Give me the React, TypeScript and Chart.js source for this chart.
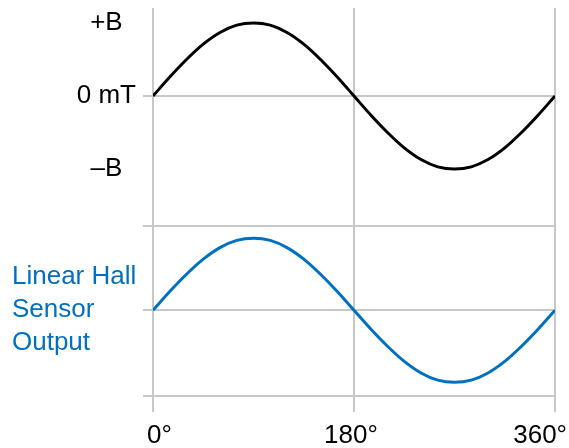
import React, { useEffect, useRef } from 'react';
import { Chart, registerables } from 'chart.js';

Chart.register(...registerables);

// Rotation angle (degrees)
const angles = [0, 15, 30, 45, 60, 75, 90, 105, 120, 135, 150, 165, 180, 195, 210, 225, 240, 255, 270, 285, 300, 315, 330, 345, 360];
// Magnetic field (normalised, ±B)
const fieldValues = [0, 0.26, 0.5, 0.71, 0.87, 0.97, 1, 0.97, 0.87, 0.71, 0.5, 0.26, 0, -0.26, -0.5, -0.71, -0.87, -0.97, -1, -0.97, -0.87, -0.71, -0.5, -0.26, 0];
// Linear Hall sensor output (normalised)
const outputValues = [0, 0.26, 0.5, 0.71, 0.87, 0.97, 1, 0.97, 0.87, 0.71, 0.5, 0.26, 0, -0.26, -0.5, -0.71, -0.87, -0.97, -1, -0.97, -0.87, -0.71, -0.5, -0.26, 0];

const xTickValues = [0, 180, 360];
const xTickLabels = ['0°', '180°', '360°'];
const fieldTickValues = [1, 0, -1];
const fieldTickLabels = ['+B', '0 mT', '–B'];
const outputLabelLines = ['Linear Hall', 'Sensor', 'Output'];

const FONT = "'Liberation Sans', Arial, sans-serif";
const GRID = '#c8c8c8';
const BLUE = '#0070c0';

const fieldMin = -1.78;
const fieldMax = 1.205;
const outputMin = -1.19;
const outputMax = 1.17;

const xLabelPlugin = {
  id: 'xLabels',
  afterDraw(chart: any) {
    const xs = chart.scales.x;
    const ctx = chart.ctx;
    ctx.save();
    ctx.font = `26px ${FONT}`;
    ctx.fillStyle = '#000';
    ctx.textBaseline = 'alphabetic';
    xTickValues.forEach((v, i) => {
      const px = xs.getPixelForValue(v);
      let x = px;
      if (i === 0) {
        ctx.textAlign = 'left';
        x = px - 6;
      } else if (i === xTickValues.length - 1) {
        ctx.textAlign = 'right';
        x = px + 12;
      } else {
        ctx.textAlign = 'center';
        x = px - 3;
      }
      ctx.fillText(xTickLabels[i], x, xs.top + 47);
    });
    ctx.restore();
  },
};

const noPad = (s: any) => {
  s.paddingTop = 0;
  s.paddingBottom = 0;
  s.paddingLeft = 0;
  s.paddingRight = 0;
};

export default function App() {
  const ref = useRef<HTMLCanvasElement | null>(null);

  useEffect(() => {
    if (!ref.current) return;
    const chart = new Chart(ref.current, {
      type: 'line',
      data: {
        datasets: [
          {
            label: 'Output',
            data: angles.map((a, i) => ({ x: a, y: outputValues[i] })),
            yAxisID: 'yOut',
            borderColor: BLUE,
            borderWidth: 3,
            pointRadius: 0,
            cubicInterpolationMode: 'monotone',
            fill: false,
          },
          {
            label: 'Field',
            data: angles.map((a, i) => ({ x: a, y: fieldValues[i] })),
            yAxisID: 'yField',
            borderColor: '#000',
            borderWidth: 3,
            pointRadius: 0,
            cubicInterpolationMode: 'monotone',
            fill: false,
          },
        ],
      },
      options: {
        animation: false,
        responsive: false,
        maintainAspectRatio: false,
        layout: { padding: { left: 12, right: 14, top: 8, bottom: 0 } },
        plugins: { legend: { display: false }, tooltip: { enabled: false } },
        scales: {
          x: {
            type: 'linear',
            min: 0,
            max: 360,
            afterBuildTicks: (s: any) => {
              s.ticks = xTickValues.map((v) => ({ value: v }));
            },
            afterFit: (s: any) => {
              s.height = 52;
              noPad(s);
            },
            ticks: { display: false },
            grid: { color: GRID, lineWidth: 2, tickLength: 16, drawTicks: true },
            border: { display: false },
          },
          yOut: {
            type: 'linear',
            position: 'left',
            stack: 'panels',
            stackWeight: 170,
            weight: 0,
            min: outputMin,
            max: outputMax,
            afterBuildTicks: (s: any) => {
              s.ticks = [outputMin, 0, outputMax].map((v) => ({ value: v }));
            },
            afterFit: (s: any) => {
              s.width = 141;
              noPad(s);
            },
            ticks: {
              autoSkip: false,
              crossAlign: 'far',
              padding: 7,
              color: BLUE,
              font: { family: FONT, size: 26, lineHeight: 33 / 26 },
              callback: (v: any) => (v === 0 ? outputLabelLines : ''),
            },
            grid: { color: GRID, lineWidth: 2, tickLength: 10 },
            border: { display: false },
          },
          yField: {
            type: 'linear',
            position: 'left',
            stack: 'panels',
            stackWeight: 218,
            weight: 1,
            min: fieldMin,
            max: fieldMax,
            afterBuildTicks: (s: any) => {
              s.ticks = fieldTickValues.map((v) => ({ value: v }));
            },
            afterFit: (s: any) => {
              s.width = 141;
              noPad(s);
            },
            ticks: {
              autoSkip: false,
              crossAlign: 'center',
              padding: 7,
              color: '#000',
              font: { family: FONT, size: 26 },
              callback: (v: any) => {
                const i = fieldTickValues.indexOf(v);
                return i >= 0 ? fieldTickLabels[i] : '';
              },
            },
            grid: {
              lineWidth: 2,
              tickLength: 10,
              color: (c: any) => (c.tick && c.tick.value === 0 ? GRID : 'rgba(0,0,0,0)'),
            },
            border: { display: false },
          },
        },
      },
      plugins: [xLabelPlugin],
    } as any);
    return () => chart.destroy();
  }, []);

  return (
    <div style={{ position: 'absolute', left: 0, top: 0, width: 569, height: 448, background: '#fff' }}>
      <canvas ref={ref} width={569} height={448} />
    </div>
  );
}
